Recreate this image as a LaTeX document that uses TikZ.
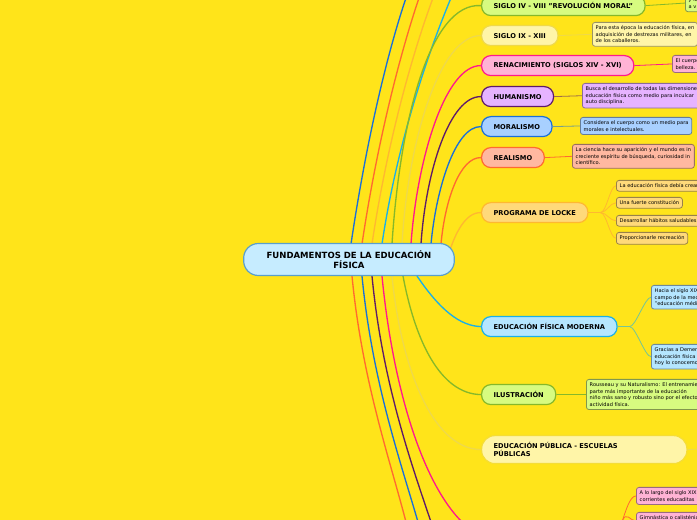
\documentclass[tikz,border=0pt]{standalone}
\usepackage{fontspec}
\setmainfont{DejaVu Sans}
\begin{document}
\begin{tikzpicture}[x=0.75pt,y=-0.75pt,
 mainbox/.style={draw,line width=0.9pt,rounded corners=7pt,anchor=north west,minimum height=15pt,inner ysep=0pt,inner xsep=9pt,font=\fontsize{5}{6}\selectfont\bfseries,align=left},
 det/.style={draw=#1!60!black,line width=0.6pt,rounded corners=2pt,anchor=north west,inner sep=2.5pt,font=\fontsize{3.8}{4.9}\selectfont,align=left},
 con/.style={line width=1pt},
 dcon/.style={line width=0.6pt}]
\definecolor{bg}{HTML}{FFE41A}
\definecolor{cgreen}{HTML}{86B82A}\definecolor{fgreen}{HTML}{D7FB80}
\definecolor{cpale}{HTML}{EFD94A}\definecolor{fpale}{HTML}{FFF5A8}
\definecolor{cpink}{HTML}{FF1A8C}\definecolor{fpink}{HTML}{FFB3D5}
\definecolor{cpurp}{HTML}{5E1A6A}\definecolor{fpurp}{HTML}{E6B3FF}
\definecolor{cblue}{HTML}{1A6FD9}\definecolor{fblue}{HTML}{A8D0FF}
\definecolor{corg}{HTML}{FF6A30}\definecolor{forg}{HTML}{FFB8A0}
\definecolor{clock}{HTML}{FFB830}\definecolor{flock}{HTML}{FFD97A}
\definecolor{ccyan}{HTML}{1AB0E8}\definecolor{fcyan}{HTML}{B5E6FF}
\definecolor{ccen}{HTML}{5A9FCB}\definecolor{fcen}{HTML}{C6ECFF}
\fill[bg] (0,0) rectangle (697,520);
\clip (0,0) rectangle (697,520);
% connectors from centre
\coordinate (t1) at (351,244);\coordinate (t2) at (362,244);\coordinate (t3) at (372,244);\coordinate (t4) at (382,244);
\coordinate (t5) at (392,244);\coordinate (t6) at (402,244);\coordinate (t7) at (411,244);\coordinate (t8) at (421,244);
\coordinate (t9) at (431,244);\coordinate (t10) at (441,244);\coordinate (t11) at (450,250);
\coordinate (b1) at (352,276);\coordinate (b2) at (362,276);\coordinate (b3) at (372,276);\coordinate (b4) at (382,276);
\coordinate (b5) at (392,276);\coordinate (b6) at (403,276);\coordinate (b7) at (417,276);
\coordinate (e1) at (406,-2);\coordinate (e2) at (419,-2);\coordinate (e3) at (433,-2);\coordinate (e4) at (451,-2);
\coordinate (f1) at (406,522);\coordinate (f2) at (418,522);\coordinate (f3) at (431,522);\coordinate (f4) at (462,522);
\draw[con,cblue] (t1) .. controls (365,150) and (385,60) .. (e1);
\draw[con,corg] (t2) .. controls (376,150) and (398,60) .. (e2);
\draw[con,clock] (t3) .. controls (386,150) and (410,60) .. (e3);
\draw[con,ccyan] (t4) .. controls (396,150) and (425,60) .. (e4);
% main nodes
\node[mainbox,draw=cgreen,fill=fgreen] (n1) at (481,-5) {SIGLO IV - VIII "REVOLUCIÓN MORAL"};
\node[mainbox,draw=cpale,fill=fpale] (n2) at (481,25) {SIGLO IX - XIII};
\node[mainbox,draw=cpink,fill=fpink] (n3) at (481,55) {RENACIMIENTO (SIGLOS XIV - XVI)};
\node[mainbox,draw=cpurp,fill=fpurp] (n4) at (481,86) {HUMANISMO};
\node[mainbox,draw=cblue,fill=fblue] (n5) at (481,116) {MORALISMO};
\node[mainbox,draw=corg,fill=forg] (n6) at (481,147) {REALISMO};
\node[mainbox,draw=clock,fill=flock] (n7) at (481,202) {PROGRAMA DE LOCKE};
\node[mainbox,draw=ccyan,fill=fcyan] (n8) at (481,316) {EDUCACIÓN FÍSICA MODERNA};
\node[mainbox,draw=cgreen,fill=fgreen] (n9) at (481,384) {ILUSTRACIÓN};
\node[mainbox,draw=cpale!60!bg,fill=fpale,text width=136pt,minimum height=21pt,rounded corners=10pt] (n10) at (481,435) {EDUCACIÓN PÚBLICA - ESCUELAS\\PÚBLICAS};
\draw[con,cgreen] (t5) .. controls (400,120) and (430,2) .. (n1.west);
\draw[con,cpale] (t6) .. controls (408,140) and (440,35) .. (n2.west);
\draw[con,cpink] (t7) .. controls (417,160) and (445,65) .. (n3.west);
\draw[con,cpurp] (t8) .. controls (426,170) and (450,96) .. (n4.west);
\draw[con,cblue] (t9) .. controls (436,190) and (455,126) .. (n5.west);
\draw[con,corg] (t10) .. controls (445,200) and (460,157) .. (n6.west);
\draw[con,clock] (t11) .. controls (455,235) and (465,212) .. (n7.west);
\draw[con,ccyan] (b7) .. controls (440,310) and (460,326) .. (n8.west);
\draw[con,cgreen] (b6) .. controls (415,340) and (440,394) .. (n9.west);
\draw[con,cpale] (b5) .. controls (400,360) and (430,449) .. (n10.west);
\draw[con,cpink] (b4) .. controls (392,380) and (420,480) .. (f4);
\draw[con,cpurp] (b3) .. controls (382,380) and (410,460) .. (f3);
\draw[con,cblue] (b2) .. controls (372,380) and (400,460) .. (f2);
\draw[con,corg] (b1) .. controls (362,380) and (390,460) .. (f1);
% central
\node[draw=ccen,fill=fcen,line width=0.9pt,rounded corners=11pt,minimum width=158pt,minimum height=24pt,align=center,font=\fontsize{6.4}{7.6}\selectfont\bfseries] (c) at (349,259.5) {FUNDAMENTOS DE LA EDUCACIÓN\\FÍSICA};
% details
\node[det=fgreen,fill=fgreen] (d1) at (685,-6) {y la educación física\\a v};
\node[det=fpale,fill=fpale] (d2) at (592,22) {Para esta época la educación física, en\\adquisición de destrezas militares, en\\de los caballeros.};
\node[det=fpink,fill=fpink] (d3) at (672,55) {El cuerpo\\belleza.};
\node[det=fpurp,fill=fpurp] (d4) at (582,83) {Busca el desarrollo de todas las dimensiones\\educación física como medio para inculcar\\auto disciplina.};
\node[det=fblue,fill=fblue] (d5) at (580,117) {Considera el cuerpo como un medio para\\morales e intelectuales.};
\node[det=forg,fill=forg] (d6) at (572,144) {La ciencia hace su aparición y el mundo es in\\creciente espíritu de búsqueda, curiosidad in\\científico.};
\node[det=flock,fill=flock] (l1) at (616,180) {La educación física debía crear};
\node[det=flock,fill=flock] (l2) at (616,197) {Una fuerte constitución};
\node[det=flock,fill=flock] (l3) at (616,215) {Desarrollar hábitos saludables};
\node[det=flock,fill=flock] (l4) at (616,232) {Proporcionarle recreación};
\node[det=fcyan,fill=fcyan] (m1) at (651,285) {Hacia el siglo XIX\\campo de la medicina\\"educación médica};
\node[det=fcyan,fill=fcyan] (m2) at (651,344) {Gracias a Demeny\\educación física\\hoy lo conocemos};
\node[det=fgreen,fill=fgreen] (d9) at (586,379) {Rousseau y su Naturalismo: El entrenamiento\\parte más importante de la educación  \\niño más sano y robusto sino por el efecto\\actividad física.};
\node[det=fpink,fill=fpink] (p1) at (636,487) {A lo largo del siglo XIX\\corrientes educaditas};
\node[det=fpink,fill=fpink] (p2) at (636,512) {Gimnástica o calisténia\\ };
\coordinate (x1) at (699,449);\coordinate (pb) at (622,522);
\draw[dcon,cgreen] (n1.east) -- (d1.west);
\draw[dcon,cpale] (n2.east) -- (d2.west);
\draw[dcon,cpink] (n3.east) -- (d3.west);
\draw[dcon,cpurp!60!bg] (n4.east) -- (d4.west);
\draw[dcon,cblue!60!bg] (n5.east) -- (d5.west);
\draw[dcon,corg] (n6.east) -- (d6.west);
\foreach \l in {l1,l2,l3,l4}{\draw[dcon,clock] (n7.east) -- ++(12,0) .. controls +(6,0) and +(-6,0) .. (\l.west);}
\foreach \l in {m1,m2}{\draw[dcon,ccyan!60!bg] (n8.east) -- ++(12,0) .. controls +(6,0) and +(-6,0) .. (\l.west);}
\draw[dcon,cgreen] (n9.east) -- (d9.west);
\draw[dcon,cpale] (n10.east) -- (x1);
\foreach \l in {p1,p2}{\draw[dcon,corg] (pb) .. controls +(4,-12) and +(-6,0) .. (\l.west);}
\end{tikzpicture}
\end{document}
